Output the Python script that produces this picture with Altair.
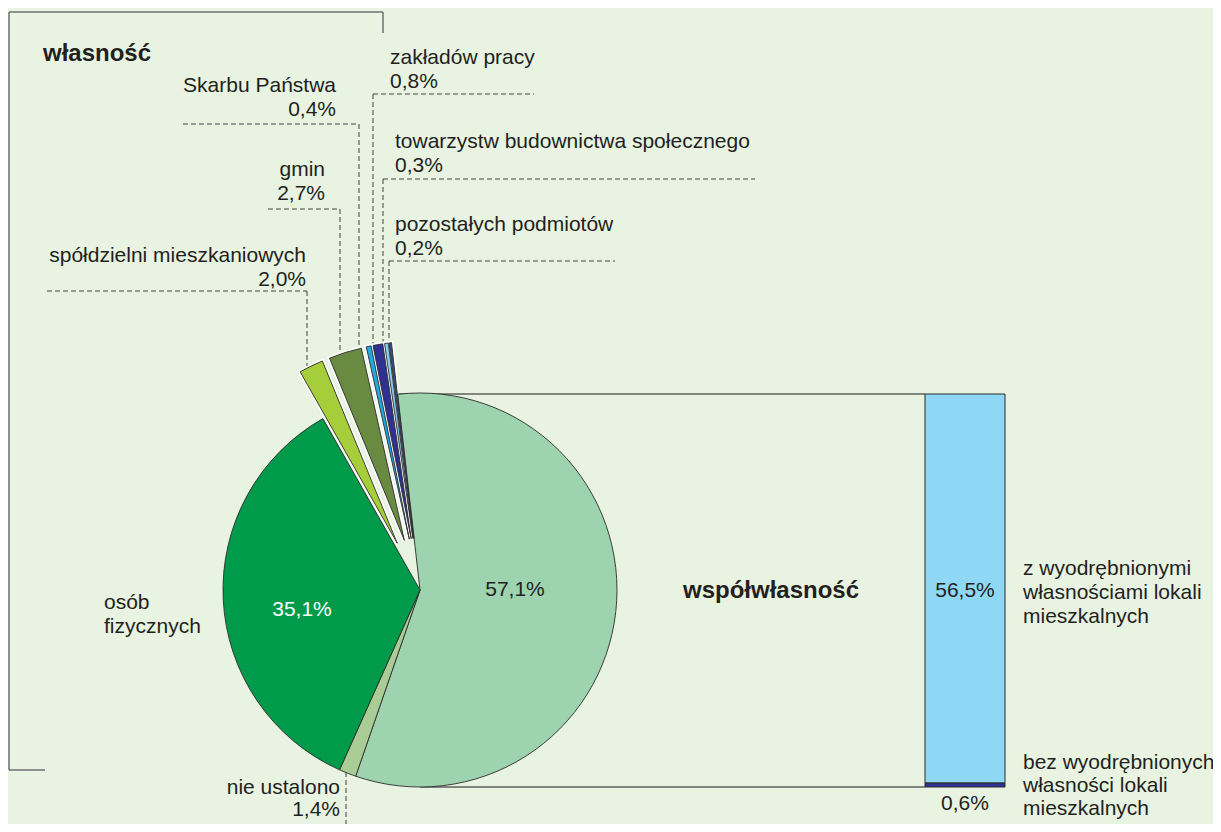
import math
import altair as alt
import pandas as pd

# ---------------- data ----------------
pie_categories = [
    "współwłasność",
    "nie ustalono",
    "osób fizycznych",
    "spółdzielni mieszkaniowych",
    "gmin",
    "Skarbu Państwa",
    "zakładów pracy",
    "towarzystw budownictwa społecznego",
    "pozostałych podmiotów",
]
pie_values = [57.1, 1.4, 35.1, 2.0, 2.7, 0.4, 0.8, 0.3, 0.2]
pie_exploded = [False, False, False, True, True, True, True, True, True]

bar_categories = [
    "bez wyodrębnionych własności lokali mieszkalnych",
    "z wyodrębnionymi własnościami lokali mieszkalnych",
]
bar_values = [0.6, 56.5]

group_title = "własność"

# ---------------- style / layout ----------------
pie_colors = ["#9DD3AF", "#AACD96", "#009B4A", "#A6CE3A", "#688B41",
              "#1FA9E1", "#2E3191", "#85CFF0", "#3A4C8C"]
bar_colors = ["#2E3191", "#8ED8F6"]
BG = "#E8F3E1"
INK = "#231F20"
FONT = "Liberation Sans"
FS = 21
FS_BOLD = 24

M = 8                      # page margin
W, H = 1221 - 2 * M, 832 - 2 * M
CX, CY, R = 420 - M, 590 - M, 197
EXPLODE = 52
START = math.radians(-6.5)
BAR_X0, BAR_X1 = 925 - M, 1005 - M
BAR_BOTTOM, BAR_TOP = 787 - M, 394 - M


def pct(v):
    return f"{v:.1f}".replace(".", ",") + "%"


# pie table (angles via theta scale)
rows = []
cum = 0.0
for i, (c, v, col, ex) in enumerate(zip(pie_categories, pie_values, pie_colors, pie_exploded)):
    t0, t1 = cum, cum + v
    cum = t1
    mid = START + 2 * math.pi * ((t0 + t1) / 2) / 100.0
    e = EXPLODE if ex else 0
    rows.append(dict(cat=c, t0=t0, t1=t1, color=col, small=ex,
                     cx=CX + e * math.sin(mid), cy=CY - e * math.cos(mid)))
pie = pd.DataFrame(rows)
pie_total = sum(pie_values)

theta_scale = alt.Scale(domain=[0, pie_total], range=[START, START + 2 * math.pi])

pie_enc = dict(
    theta=alt.Theta("t0:Q", scale=theta_scale, stack=None),
    theta2="t1:Q",
    x=alt.X("cx:Q", scale=None),
    y=alt.Y("cy:Q", scale=None),
)

halo = alt.Chart(pie).transform_filter("datum.small").mark_arc(
    radius=R, fill="white", stroke="white", strokeWidth=4
).encode(**pie_enc)

arcs = alt.Chart(pie).mark_arc(radius=R, stroke="#2b2b2b", strokeWidth=0.9).encode(
    fill=alt.Fill("color:N", scale=None), **pie_enc
)

# bar (breakdown of the co-ownership slice)
bcum = 0.0
brows = []
for c, v, col in zip(bar_categories, bar_values, bar_colors):
    brows.append(dict(cat=c, y0=bcum, y1=bcum + v, color=col))
    bcum += v
bar = pd.DataFrame(brows)
bar_chart = alt.Chart(bar).mark_rect(stroke="#2b2b2b", strokeWidth=1).encode(
    x=alt.value(BAR_X0), x2=alt.value(BAR_X1),
    y=alt.Y("y0:Q", scale=alt.Scale(domain=[0, pie_values[0]], range=[BAR_BOTTOM, BAR_TOP]), axis=None),
    y2="y1:Q",
    fill=alt.Fill("color:N", scale=None),
)

# lines (page coordinates)
def seg(x, y, x2, y2):
    return dict(x=x - M, y=y - M, x2=x2 - M, y2=y2 - M)

dashed = pd.DataFrame([
    seg(47, 291, 307, 291), seg(307, 291, 307, 367),
    seg(268, 209, 340, 209), seg(340, 209, 340, 353),
    seg(183, 124, 359, 124), seg(359, 124, 359, 348),
    seg(373, 94, 534, 94), seg(373, 94, 373, 346),
    seg(383, 179, 755, 179), seg(383, 179, 383, 345),
    seg(389, 261, 615, 261), seg(389, 261, 389, 343),
    seg(346, 772, 346, 832),
])
bracket = pd.DataFrame([
    seg(9, 12, 9, 770), seg(9, 12, 383, 12), seg(383, 12, 383, 33), seg(9, 770, 45, 770),
])
connect = pd.DataFrame([
    seg(398, 394, 925, 394), seg(420, 787, 925, 787),
])

def rules(df, **kw):
    return alt.Chart(df).mark_rule(**kw).encode(
        x=alt.X("x:Q", scale=None), x2="x2:Q",
        y=alt.Y("y:Q", scale=None), y2="y2:Q",
    )

dash_layer = rules(dashed, color="#444444", strokeWidth=1, strokeDash=[5, 3])
bracket_layer = rules(bracket, color="#6f6f6f", strokeWidth=1.5)
connect_layer = rules(connect, color="#1a1a1a", strokeWidth=1)

# labels
v = dict(zip(pie_categories, pie_values))
bv = dict(zip(bar_categories, bar_values))
labels = [
    # text, x, y (first baseline, page coords), align, bold, color, line height
    (group_title, 43, 61, "left", True, INK, 24),
    ("Skarbu Państwa\n" + pct(v["Skarbu Państwa"]), 336, 92, "right", False, INK, 24),
    ("zakładów pracy\n" + pct(v["zakładów pracy"]), 390, 64, "left", False, INK, 24),
    ("towarzystw budownictwa społecznego\n" + pct(v["towarzystw budownictwa społecznego"]), 395, 148, "left", False, INK, 24),
    ("pozostałych podmiotów\n" + pct(v["pozostałych podmiotów"]), 395, 231, "left", False, INK, 24),
    ("gmin\n" + pct(v["gmin"]), 325, 176, "right", False, INK, 24),
    ("spółdzielni mieszkaniowych\n" + pct(v["spółdzielni mieszkaniowych"]), 306, 262, "right", False, INK, 24),
    ("osób\nfizycznych", 104, 609, "left", False, INK, 24),
    ("nie ustalono\n" + pct(v["nie ustalono"]), 340, 794, "right", False, INK, 22),
    (pct(v["współwłasność"]), 515, 596, "center", False, INK, 24),
    (pct(v["osób fizycznych"]), 302, 616, "center", False, "white", 24),
    ("współwłasność", 683, 598, "left", True, INK, 24),
    (pct(bv[bar_categories[1]]), 965, 597, "center", False, INK, 24),
    (pct(bv[bar_categories[0]]), 965, 810, "center", False, INK, 24),
    ("z wyodrębnionymi\nwłasnościami lokali\nmieszkalnych", 1023, 575, "left", False, INK, 24),
    ("bez wyodrębnionych\nwłasności lokali\nmieszkalnych", 1023, 769, "left", False, INK, 23),
]
lab = pd.DataFrame(labels, columns=["text", "x", "y", "align", "bold", "color", "lh"])
lab["x"] -= M
lab["y"] -= M

text_layers = []
for (align, bold, color, lh), g in lab.groupby(["align", "bold", "color", "lh"]):
    text_layers.append(
        alt.Chart(g.reset_index(drop=True)).mark_text(
            align=align, baseline="alphabetic", font=FONT,
            fontSize=FS_BOLD if bold else FS, fontWeight="bold" if bold else "normal",
            color=color, lineBreak="\n", lineHeight=int(lh),
        ).encode(x=alt.X("x:Q", scale=None), y=alt.Y("y:Q", scale=None), text="text:N")
    )

chart = alt.layer(
    bracket_layer, dash_layer, connect_layer, bar_chart, halo, arcs, *text_layers
).resolve_scale(y="independent").properties(
    width=W, height=H, autosize=alt.AutoSizeParams(type="none"), padding=0, background=BG,
).configure_view(stroke=None)

chart.save("out.html", embed_options={"renderer": "svg", "actions": False})
